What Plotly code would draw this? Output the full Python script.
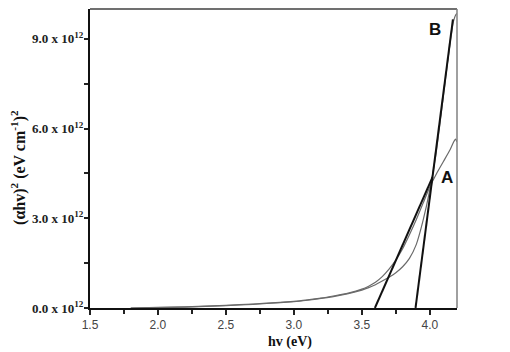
import plotly.graph_objects as go

# Data (values in units of 1e12)
x_vals = [1.8, 2.0, 2.2, 2.4, 2.6, 2.8, 3.0, 3.1, 3.2, 3.3, 3.4, 3.5, 3.55, 3.6, 3.65, 3.7,
          3.75, 3.8, 3.85, 3.9, 3.95, 4.0, 4.05, 4.1, 4.15, 4.175, 4.19, 4.2]
curve_a = [0.0, 0.02, 0.04, 0.07, 0.11, 0.16, 0.22, 0.27, 0.33, 0.41, 0.5, 0.63, 0.73, 0.86, 1.05, 1.3,
           1.6, 1.98, 2.45, 2.95, 3.5, 4.05, 4.5, 4.9, 5.3, 5.55, 5.65, 5.55]
curve_b = [0.0, 0.01, 0.03, 0.06, 0.1, 0.15, 0.21, 0.26, 0.32, 0.39, 0.48, 0.6, 0.68, 0.78, 0.9, 1.03,
           1.18, 1.38, 1.66, 2.12, 2.92, 3.95, 5.3, 7.1, 8.9, 9.6, 9.8, 9.85]
tangent_a_x = [3.596, 4.02]
tangent_a_y = [0.0, 4.38]
tangent_b_x = [3.895, 4.17]
tangent_b_y = [0.0, 9.65]
scale = 1e12

y_tickvals = [0, 3e12, 6e12, 9e12]
y_ticktext = ["0.0 x 10<sup>12</sup>", "3.0 x 10<sup>12</sup>", "6.0 x 10<sup>12</sup>", "9.0 x 10<sup>12</sup>"]
x_tickvals = [1.5, 2.0, 2.5, 3.0, 3.5, 4.0]
x_ticktext = ["1.5", "2.0", "2.5", "3.0", "3.5", "4.0"]

fig = go.Figure()
fig.add_trace(go.Scatter(x=x_vals, y=[v * scale for v in curve_a], mode="lines",
                         line=dict(color="#6a6a6a", width=1.2, shape="spline", smoothing=0.5),
                         showlegend=False))
fig.add_trace(go.Scatter(x=x_vals, y=[v * scale for v in curve_b], mode="lines",
                         line=dict(color="#6a6a6a", width=1.2, shape="spline", smoothing=0.5),
                         showlegend=False))
fig.add_trace(go.Scatter(x=tangent_a_x, y=[v * scale for v in tangent_a_y], mode="lines",
                         line=dict(color="#111111", width=2), showlegend=False))
fig.add_trace(go.Scatter(x=tangent_b_x, y=[v * scale for v in tangent_b_y], mode="lines",
                         line=dict(color="#111111", width=2), showlegend=False))

fig.add_annotation(x=4.125, y=4.35e12, text="<b>A</b>", showarrow=False,
                   font=dict(family="Liberation Sans, Arial", size=17, color="#111"))
fig.add_annotation(x=4.04, y=9.3e12, text="<b>B</b>", showarrow=False,
                   font=dict(family="Liberation Sans, Arial", size=17, color="#111"))

# axis titles placed as annotations to match reference positions
fig.add_annotation(xref="paper", yref="paper", x=0.545, y=-0.115, yanchor="middle",
                   text="<b>hv (eV)</b>", showarrow=False,
                   font=dict(family="Liberation Serif, Times New Roman", size=14, color="#111"))
fig.add_annotation(xref="paper", yref="paper", x=-0.195, y=0.47, xanchor="center", yanchor="middle",
                   text="<b>(αhv)<sup>2</sup> (eV cm<sup>-1</sup>)<sup>2</sup></b>", showarrow=False,
                   textangle=-90,
                   font=dict(family="Liberation Serif, Times New Roman", size=16, color="#111"))

# top and right borders in gray
fig.add_shape(type="line", xref="paper", yref="paper", x0=0, x1=1, y0=1, y1=1,
              line=dict(color="#707070", width=2))
fig.add_shape(type="line", xref="paper", yref="paper", x0=1, x1=1, y0=0, y1=1,
              line=dict(color="#808080", width=1.5))

# page body has an 8px margin, so the figure is sized/offset to compensate
fig.update_layout(
    width=502, height=344,
    margin=dict(l=82, r=53, t=1, b=44),
    paper_bgcolor="white", plot_bgcolor="white",
    xaxis=dict(range=[1.5, 4.2], tickvals=x_tickvals, ticktext=x_ticktext, automargin=False,
               showgrid=False, zeroline=False, showline=True, linecolor="#111", linewidth=2,
               ticks="outside", ticklen=5, tickwidth=1.5, tickcolor="#222",
               minor=dict(dtick=0.25, ticks="outside", ticklen=4, tickcolor="#222", tickwidth=1.5),
               tickfont=dict(family="Liberation Sans, Arial", size=12, color="#444")),
    yaxis=dict(range=[0, 10e12], tickvals=y_tickvals, ticktext=y_ticktext, automargin=False,
               showgrid=False, zeroline=False, showline=True, linecolor="#111", linewidth=2,
               ticks="outside", ticklen=4, tickwidth=1.5, tickcolor="#222", ticklabelstandoff=-2,
               minor=dict(dtick=1.5e12, tick0=0, ticks="outside", ticklen=4, tickcolor="#222", tickwidth=1.5),
               tickfont=dict(family="Liberation Serif, Times New Roman", size=13, color="#222", weight="bold")),
)

fig.write_html("out.html")
